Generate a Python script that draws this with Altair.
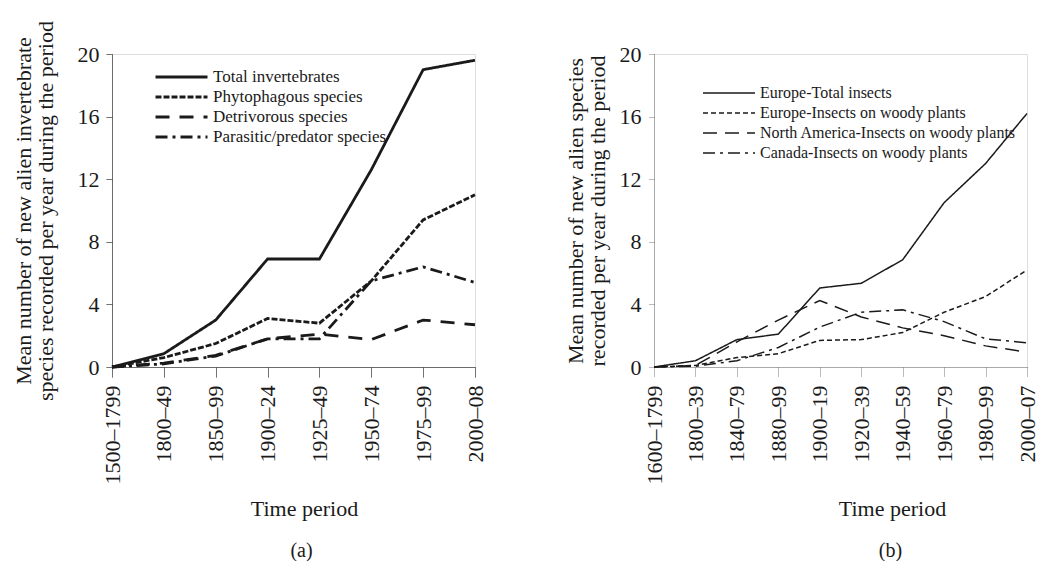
import altair as alt
import pandas as pd

# ---------------- data ----------------
periods_a = ["1500–1799", "1800–49", "1850–99", "1900–24", "1925–49",
             "1950–74", "1975–99", "2000–08"]
series_a = ["Total invertebrates", "Phytophagous species",
            "Detrivorous species", "Parasitic/predator species"]
total_invertebrates = [0, 0.85, 3.0, 6.9, 6.9, 12.6, 19.0, 19.6]
phytophagous = [0, 0.6, 1.5, 3.1, 2.8, 5.5, 9.4, 11.0]
detrivorous = [0, 0.25, 0.75, 1.8, 2.1, 1.75, 3.0, 2.7]
parasitic_predator = [0, 0.2, 0.7, 1.8, 1.8, 5.5, 6.4, 5.4]
values_a = [total_invertebrates, phytophagous, detrivorous, parasitic_predator]

periods_b = ["1600–1799", "1800–39", "1840–79", "1880–99", "1900–19",
             "1920–39", "1940–59", "1960–79", "1980–99", "2000–07"]
series_b = ["Europe-Total insects", "Europe-Insects on woody plants",
            "North America-Insects on woody plants", "Canada-Insects on woody plants"]
europe_total = [0, 0.4, 1.75, 2.1, 5.05, 5.35, 6.85, 10.5, 13.0, 16.2]
europe_woody = [0, 0.1, 0.6, 0.85, 1.7, 1.75, 2.2, 3.5, 4.5, 6.2]
north_america_woody = [0, 0.1, 1.6, 3.0, 4.25, 3.2, 2.5, 2.0, 1.35, 0.95]
canada_woody = [0, 0.05, 0.4, 1.25, 2.55, 3.5, 3.65, 2.9, 1.8, 1.55]
values_b = [europe_total, europe_woody, north_america_woody, canada_woody]

y_ticks = [0, 4, 8, 12, 16, 20]

df_a = pd.DataFrame([{"period": p, "series": s, "value": v}
                     for s, vals in zip(series_a, values_a)
                     for p, v in zip(periods_a, vals)])
df_b = pd.DataFrame([{"period": p, "series": s, "value": v}
                     for s, vals in zip(series_b, values_b)
                     for p, v in zip(periods_b, vals)])

FONT = "Liberation Serif"
INK = "#1a1a1a"


def panel(df, periods, series, dashes, stroke_w, ytitle, ytitle_pad, letter,
          width, legend_x, legend_y, sym_w, title_x, letter_dx,
          axis_color, axis_dash, legend_font):
    return alt.Chart(df).mark_line(color=INK, strokeWidth=stroke_w).encode(
        x=alt.X("period:N", sort=periods,
                scale=alt.Scale(type="point", padding=0),
                axis=alt.Axis(title="Time period", labelAngle=-90,
                              labelFont=FONT, labelFontSize=22, labelColor=INK,
                              labelPadding=8, tickSize=10, tickColor=axis_color,
                              tickDash=axis_dash, domainDash=axis_dash,
                              domainColor=axis_color, titleFont=FONT,
                              titleFontSize=22, titleFontWeight="normal",
                              titleColor=INK, titlePadding=14, titleX=title_x)),
        y=alt.Y("value:Q", scale=alt.Scale(domain=[0, 20]),
                axis=alt.Axis(values=y_ticks, grid=False, title=ytitle,
                              labelFont=FONT, labelFontSize=22, labelColor=INK,
                              labelPadding=7, tickSize=6, tickColor=axis_color,
                              tickDash=axis_dash, domainDash=axis_dash,
                              domainColor=axis_color, titleFont=FONT,
                              titleFontSize=22, titleFontWeight="normal",
                              titleColor=INK, titleLineHeight=22,
                              titlePadding=ytitle_pad)),
        strokeDash=alt.StrokeDash(
            "series:N", sort=series,
            scale=alt.Scale(domain=series, range=dashes),
            legend=alt.Legend(title=None, orient="none", legendX=legend_x,
                              legendY=legend_y, symbolType="stroke",
                              symbolSize=sym_w * sym_w,
                              symbolStrokeWidth=stroke_w,
                              symbolStrokeColor=INK, labelFont=FONT,
                              labelFontSize=legend_font, labelColor=INK,
                              clipHeight=20, rowPadding=0, labelOffset=4,
                              labelLimit=400)),
    ).properties(
        width=width, height=313,
        title=alt.TitleParams(letter, orient="bottom", font=FONT, fontSize=20,
                              fontWeight="normal", color=INK, offset=22,
                              dx=letter_dx),
    )


left = panel(df_a, periods_a, series_a,
             [[1, 0], [6, 2], [14, 10], [12, 5, 3, 5]], 2.8,
             ["Mean number of new alien invertebrate",
              "species recorded per year during the period"], 20,
             "(a)", 363, 42, 13, 52, 192, 8, "#444444", [1, 0], 17)

right = panel(df_b, periods_b, series_b,
              [[1, 0], [5, 3], [14, 8], [12, 5, 3, 5]], 1.5,
              ["Mean number of new alien species",
               "recorded per year during the period"], 10,
              "(b)", 373, 48, 29, 52, 238, 50, "#777777", [1, 1], 16)

chart = alt.hconcat(left, right, spacing=76).resolve_scale(
    strokeDash="independent", x="independent"
).properties(
    padding={"top": 12, "left": 3, "right": 5, "bottom": 5}
).configure_view(stroke=None).configure(background="white")

chart.save("out.html", embed_options={"renderer": "svg", "actions": False})
